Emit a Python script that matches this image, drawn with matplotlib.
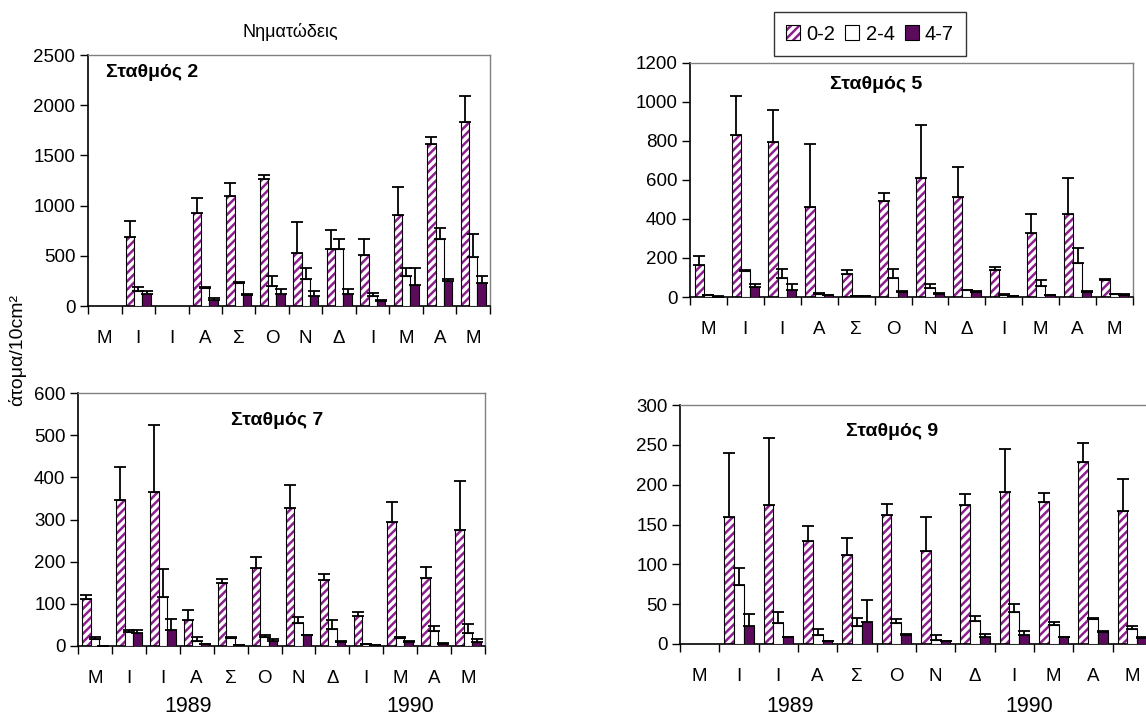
import numpy as np
import matplotlib
matplotlib.use('Agg')
import matplotlib.pyplot as plt
from matplotlib.patches import Patch
from matplotlib.legend_handler import HandlerTuple

plt.rcParams['font.family'] = ['Liberation Sans', 'DejaVu Sans']
plt.rcParams['hatch.linewidth'] = 1.8

months = ['Μ', 'Ι', 'Ι', 'Α', 'Σ', 'Ο', 'Ν', 'Δ', 'Ι', 'Μ', 'Α', 'Μ']
layers = ['0-2', '2-4', '4-7']
nan = np.nan

# Σταθμός 2 (μέσος όρος και τυπική απόκλιση)
st2_02 = [nan, 684, nan, 930, 1099, 1265, 525, 568, 508, 906, 1610, 1836]
st2_02_sd = [nan, 166, nan, 149, 129, 43, 308, 189, 156, 283, 77, 259]
st2_24 = [nan, 150, nan, 180, 232, 203, 266, 568, 100, 302, 664, 491]
st2_24_sd = [nan, 43, nan, 10, 10, 99, 116, 96, 33, 80, 110, 226]
st2_47 = [nan, 120, nan, 60, 110, 116, 100, 116, 50, 205, 249, 226]
st2_47_sd = [nan, 33, nan, 16, 8, 54, 53, 54, 10, 175, 17, 73]

# Σταθμός 5
st5_02 = [166, 832, 793, 463, 117, 494, 608, 513, 136, 328, 424, 85]
st5_02_sd = [46, 200, 166, 321, 19, 41, 272, 154, 20, 96, 184, 8]
st5_24 = [8, 131, 97, 15, 5, 97, 48, 37, 12, 56, 173, 17]
st5_24_sd = [4, 5, 47, 5, 2, 47, 20, 0, 5, 29, 78, 0]
st5_47 = [2, 51, 37, 8, 3, 25, 17, 25, 3, 8, 25, 12]
st5_47_sd = [2, 17, 31, 2, 2, 4, 3, 4, 1, 0, 4, 5]

# Σταθμός 7
st7_02 = [111, 347, 365, 62, 149, 184, 328, 157, 71, 293, 162, 275]
st7_02_sd = [9, 77, 158, 24, 9, 27, 54, 14, 9, 48, 26, 117]
st7_24 = [17, 34, 116, 12, 18, 22, 54, 40, 4, 18, 35, 30]
st7_24_sd = [4, 3, 67, 9, 3, 3, 14, 22, 0, 3, 13, 22]
st7_47 = [0, 30, 39, 4, 3, 12, 25, 10, 2, 10, 4, 9]
st7_47_sd = [0, 8, 24, 0, 0, 5, 2, 2, 0, 2, 4, 8]

# Σταθμός 9
st9_02 = [nan, 160, 174, 129, 112, 162, 117, 174, 191, 178, 229, 167]
st9_02_sd = [nan, 80, 85, 19, 21, 14, 43, 14, 54, 12, 23, 40]
st9_24 = [nan, 74, 26, 11, 23, 26, 5, 29, 40, 24, 31, 19]
st9_24_sd = [nan, 21, 14, 8, 10, 5, 6, 6, 10, 4, 2, 4]
st9_47 = [nan, 23, 9, 4, 28, 11, 4, 9, 11, 9, 15, 8]
st9_47_sd = [nan, 15, 0, 0, 27, 2, 0, 4, 5, 0, 1, 1]

stations = [
    ('Σταθμός 2', [st2_02, st2_24, st2_47], [st2_02_sd, st2_24_sd, st2_47_sd], 2500, 500),
    ('Σταθμός 5', [st5_02, st5_24, st5_47], [st5_02_sd, st5_24_sd, st5_47_sd], 1200, 200),
    ('Σταθμός 7', [st7_02, st7_24, st7_47], [st7_02_sd, st7_24_sd, st7_47_sd], 600, 100),
    ('Σταθμός 9', [st9_02, st9_24, st9_47], [st9_02_sd, st9_24_sd, st9_47_sd], 300, 50),
]

W, H = 1146, 720
# θέσεις πλαισίων σε pixel: αριστερά, δεξιά, πάνω, κάτω
boxes = [(88, 490, 55, 306), (690, 1133, 63, 297), (78, 485, 393, 646), (680, 1152, 405, 644)]
label_pos = [(0.045, 0.93, 'left'), (0.42, 0.91, 'center'), (0.49, 0.89, 'center'), (0.45, 0.89, 'center')]

purple = '#8e1f8e'
dark = '#5c0a5c'

fig = plt.figure(figsize=(W / 100, H / 100), dpi=100)
x = np.arange(len(months))
bw = 0.25

for (name, vals, sds, ymax, step), (l, r, t, b), (tx, ty, ha) in zip(stations, boxes, label_pos):
    ax = fig.add_axes([l / W, 1 - b / H, (r - l) / W, (b - t) / H])
    offs = [-bw, 0, bw]
    for i, (v, s) in enumerate(zip(vals, sds)):
        v = np.array(v, dtype=float)
        s = np.array(s, dtype=float)
        xi = x + offs[i]
        if i == 0:
            ax.bar(xi, v, bw, facecolor='white', edgecolor=purple, hatch='////', linewidth=0, zorder=2)
            ax.bar(xi, v, bw, facecolor='none', edgecolor='black', linewidth=0.8, zorder=3)
        elif i == 1:
            ax.bar(xi, v, bw, facecolor='white', edgecolor='black', linewidth=0.8, zorder=3)
        else:
            ax.bar(xi, v, bw, facecolor=dark, edgecolor='black', linewidth=0.8, zorder=3)
        ax.errorbar(xi, v, yerr=[np.zeros_like(s), s], fmt='none', ecolor='black',
                    elinewidth=1.3, capsize=4.5, capthick=1.3, zorder=4)
    ax.set_xlim(-0.5, 11.5)
    ax.set_ylim(0, ymax)
    ax.set_yticks(np.arange(0, ymax + 1, step))
    ax.set_xticks(x)
    ax.set_xticklabels(months)
    ax.set_xticks(np.arange(-0.5, 12, 1), minor=True)
    ax.tick_params(axis='x', which='major', length=0, pad=17, labelsize=13.5)
    ax.tick_params(axis='x', which='minor', length=5.5, width=1, direction='out')
    ax.tick_params(axis='y', length=6, width=1, pad=3, labelsize=13.5)
    for sp in ['top', 'right']:
        ax.spines[sp].set_color('#808080')
        ax.spines[sp].set_linewidth(1)
    for sp in ['left', 'bottom']:
        ax.spines[sp].set_color('black')
        ax.spines[sp].set_linewidth(1.2)
    ax.text(tx, ty, name, transform=ax.transAxes, ha=ha, va='center',
            fontsize=14, fontweight='bold')

fig.text(290 / W, 1 - 32 / H, 'Νηματώδεις', ha='center', va='center', fontsize=13)
fig.text(17 / W, 1 - 350 / H, 'άτομα/10cm²', rotation=90, ha='center', va='center', fontsize=14)

for xp, yr in [(188, '1989'), (410, '1990'), (790, '1989'), (1029, '1990')]:
    fig.text(xp / W, 1 - 707 / H, yr, ha='center', va='center', fontsize=15.5)

hatched = (Patch(facecolor='white', edgecolor=purple, hatch='////', linewidth=0),
           Patch(facecolor='none', edgecolor='black', linewidth=0.8))
handles = [hatched,
           Patch(facecolor='white', edgecolor='black', linewidth=0.8),
           Patch(facecolor=dark, edgecolor='black', linewidth=0.8)]
fig.legend(handles, layers, loc='center', bbox_to_anchor=(870 / W, 1 - 34 / H), ncol=3,
           fontsize=14.5, frameon=True, fancybox=False, edgecolor='black',
           handlelength=0.7, handleheight=0.7, handletextpad=0.3, columnspacing=0.5,
           borderpad=0.6, handler_map={tuple: HandlerTuple(ndivide=1, pad=0)})

fig.savefig('out.png', dpi=100)
